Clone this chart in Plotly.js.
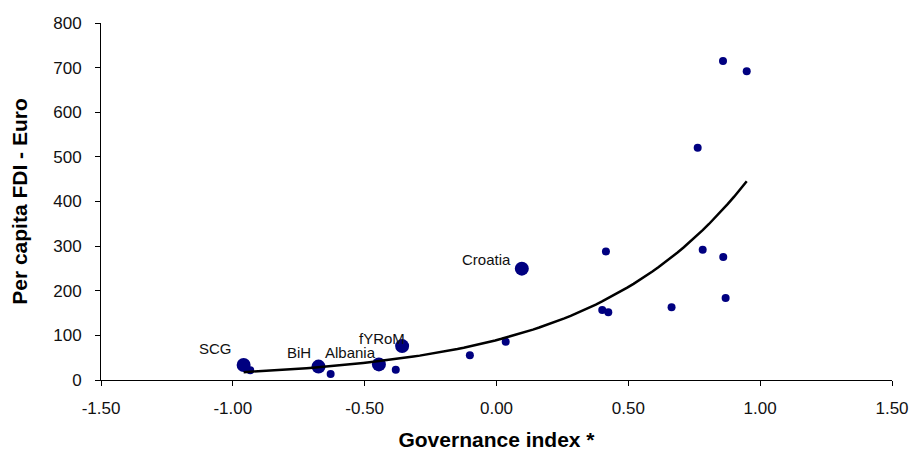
<!DOCTYPE html>
<html><head><meta charset="utf-8">
<script src="https://cdn.plot.ly/plotly-3.0.1.min.js"></script>
<style>html,body{margin:0;padding:0;background:#fff}</style>
</head><body><div id="chart" style="width:913px;height:451px"></div>
<script>
// Labelled countries
const countryNames = ["SCG", "BiH", "Albania", "fYRoM", "Croatia"];
const countryGov = [-0.959, -0.675, -0.446, -0.358, 0.096];
const countryFDI = [33.6, 30, 35, 76, 249.5];
// Other countries
const otherGov = [-0.934, -0.629, -0.382, -0.101, 0.035, 0.401, 0.415, 0.424, 0.664, 0.763, 0.782, 0.859, 0.860, 0.869, 0.949];
const otherFDI = [22, 13.4, 23, 55.3, 85.8, 156.8, 288, 151.6, 162.8, 520.5, 292, 714.8, 275.6, 183.7, 692];
// Tick labels
const xTickVals = [-1.5, -1, -0.5, 0, 0.5, 1, 1.5];
const xTickText = ["-1.50", "-1.00", "-0.50", "0.00", "0.50", "1.00", "1.50"];

// Exponential trendline (least squares on ln y, as in Excel)
const allX = countryGov.concat(otherGov);
const allY = countryFDI.concat(otherFDI);
const n = allX.length;
const lnY = allY.map(v => Math.log(v));
const mx = allX.reduce((a, b) => a + b, 0) / n;
const my = lnY.reduce((a, b) => a + b, 0) / n;
let sxy = 0, sxx = 0;
for (let i = 0; i < n; i++) { sxy += (allX[i] - mx) * (lnY[i] - my); sxx += (allX[i] - mx) ** 2; }
const b = sxy / sxx, lnA = my - b * mx;
const xMin = Math.min(...allX), xMax = Math.max(...allX);
const trendX = [], trendY = [];
for (let k = 0; k <= 80; k++) { const x = xMin + (xMax - xMin) * k / 80; trendX.push(x); trendY.push(Math.exp(lnA + b * x)); }

const FONT = 'Liberation Sans, Arial, sans-serif';
// label offsets (px) relative to each labelled point
const labelDX = [-10, -6, -1, 5, -9];
const labelDY = [17, 14, 12, 8, 9];
const annotations = countryNames.map((name, i) => ({
  x: countryGov[i], y: countryFDI[i], xref: 'x', yref: 'y', text: name, showarrow: false,
  xanchor: 'right', yanchor: 'middle', xshift: labelDX[i], yshift: labelDY[i],
  font: {family: FONT, size: 15, color: '#111'}
}));

const data = [
  {x: otherGov, y: otherFDI, mode: 'markers', type: 'scatter', marker: {color: '#000080', size: 8}},
  {x: countryGov, y: countryFDI, mode: 'markers', type: 'scatter', marker: {color: '#000080', size: 14}, text: countryNames},
  {x: trendX, y: trendY, mode: 'lines', type: 'scatter', line: {color: '#000', width: 2.5}}
];

const layout = {
  width: 913, height: 451,
  margin: {l: 101, r: 21, t: 23, b: 71},
  paper_bgcolor: '#fff', plot_bgcolor: '#fff',
  showlegend: false,
  font: {family: FONT, size: 17, color: '#111'},
  xaxis: {
    range: [-1.5, 1.5], tickvals: xTickVals, ticktext: xTickText,
    tickfont: {family: FONT, size: 17, color: '#111'},
    showgrid: false, zeroline: false, showline: true, linecolor: '#000', linewidth: 1,
    ticks: 'outside', ticklen: 5, tickcolor: '#000', ticklabelstandoff: 8,
    title: {text: 'Governance index *', font: {family: FONT, size: 21, weight: 'bold', color: '#000'}, standoff: 15}
  },
  yaxis: {
    range: [0, 800], dtick: 100, tick0: 0,
    tickfont: {family: FONT, size: 17, color: '#111'},
    showgrid: false, zeroline: false, showline: true, linecolor: '#000', linewidth: 1,
    ticks: 'outside', ticklen: 5, tickcolor: '#000', ticklabelstandoff: 10,
    title: {text: 'Per capita FDI - Euro', font: {family: FONT, size: 21, weight: 'bold', color: '#000'}, standoff: 19}
  },
  annotations: annotations
};
Plotly.newPlot('chart', data, layout, {displayModeBar: false, staticPlot: true});
</script></body></html>
